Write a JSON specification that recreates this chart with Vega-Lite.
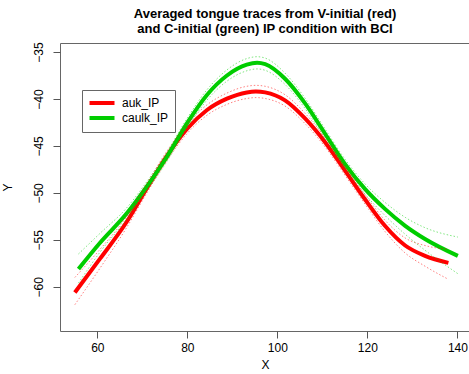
{
  "$schema": "https://vega.github.io/schema/vega-lite/v6.json",
  "width": 410,
  "height": 288,
  "autosize": {"type": "none"},
  "padding": {"left": 60, "top": 43, "right": 0, "bottom": 43},
  "title": {
    "text": ["Averaged tongue traces from V-initial (red)", "and C-initial (green) IP condition with BCI"],
    "font": "Liberation Sans",
    "fontSize": 13,
    "fontWeight": "bold",
    "anchor": "middle",
    "offset": 6,
    "lineHeight": 15,
    "color": "black"
  },
  "config": {
    "view": {"stroke": "#666", "strokeWidth": 1},
    "font": "Liberation Sans"
  },
  "data": {
    "values": [
      {"series": "auk_IP", "x": 55.0, "y": -60.6, "lo": -61.9, "hi": -59.0},
      {"series": "auk_IP", "x": 60.6, "y": -57.0, "lo": -58.0, "hi": -56.0},
      {"series": "auk_IP", "x": 66.5, "y": -53.1, "lo": -53.7, "hi": -52.5},
      {"series": "auk_IP", "x": 71.0, "y": -49.5, "lo": -50.0, "hi": -49.0},
      {"series": "auk_IP", "x": 75.4, "y": -46.1, "lo": -46.6, "hi": -45.6},
      {"series": "auk_IP", "x": 79.9, "y": -43.2, "lo": -43.7, "hi": -42.7},
      {"series": "auk_IP", "x": 84.3, "y": -41.2, "lo": -41.75, "hi": -40.65},
      {"series": "auk_IP", "x": 88.8, "y": -39.97, "lo": -40.57, "hi": -39.37},
      {"series": "auk_IP", "x": 93.2, "y": -39.3, "lo": -39.95, "hi": -38.65},
      {"series": "auk_IP", "x": 95.2, "y": -39.2, "lo": -39.85, "hi": -38.55},
      {"series": "auk_IP", "x": 97.3, "y": -39.3, "lo": -39.95, "hi": -38.65},
      {"series": "auk_IP", "x": 101.7, "y": -40.15, "lo": -40.75, "hi": -39.55},
      {"series": "auk_IP", "x": 106.2, "y": -42.1, "lo": -42.65, "hi": -41.55},
      {"series": "auk_IP", "x": 110.6, "y": -44.6, "lo": -45.1, "hi": -44.1},
      {"series": "auk_IP", "x": 115.0, "y": -47.6, "lo": -48.1, "hi": -47.1},
      {"series": "auk_IP", "x": 119.5, "y": -50.7, "lo": -51.2, "hi": -50.2},
      {"series": "auk_IP", "x": 123.9, "y": -53.5, "lo": -54.1, "hi": -52.9},
      {"series": "auk_IP", "x": 128.4, "y": -55.6, "lo": -56.4, "hi": -54.8},
      {"series": "auk_IP", "x": 132.8, "y": -56.7, "lo": -57.8, "hi": -55.6},
      {"series": "auk_IP", "x": 138.0, "y": -57.45, "lo": -59.2, "hi": -56.0},
      {"series": "caulk_IP", "x": 55.8, "y": -58.1, "lo": -59.6, "hi": -56.5},
      {"series": "caulk_IP", "x": 60.6, "y": -55.3, "lo": -56.3, "hi": -54.3},
      {"series": "caulk_IP", "x": 66.5, "y": -52.2, "lo": -52.8, "hi": -51.6},
      {"series": "caulk_IP", "x": 71.0, "y": -49.3, "lo": -49.8, "hi": -48.8},
      {"series": "caulk_IP", "x": 75.4, "y": -46.2, "lo": -46.7, "hi": -45.7},
      {"series": "caulk_IP", "x": 79.9, "y": -42.6, "lo": -43.1, "hi": -42.1},
      {"series": "caulk_IP", "x": 84.3, "y": -39.6, "lo": -40.15, "hi": -39.05},
      {"series": "caulk_IP", "x": 88.8, "y": -37.5, "lo": -38.1, "hi": -36.9},
      {"series": "caulk_IP", "x": 93.2, "y": -36.35, "lo": -37.0, "hi": -35.7},
      {"series": "caulk_IP", "x": 95.5, "y": -36.15, "lo": -36.8, "hi": -35.5},
      {"series": "caulk_IP", "x": 97.3, "y": -36.3, "lo": -36.95, "hi": -35.65},
      {"series": "caulk_IP", "x": 101.7, "y": -37.85, "lo": -38.45, "hi": -37.25},
      {"series": "caulk_IP", "x": 106.2, "y": -40.5, "lo": -41.05, "hi": -39.95},
      {"series": "caulk_IP", "x": 110.6, "y": -43.7, "lo": -44.2, "hi": -43.2},
      {"series": "caulk_IP", "x": 115.0, "y": -46.9, "lo": -47.4, "hi": -46.4},
      {"series": "caulk_IP", "x": 119.5, "y": -49.6, "lo": -50.15, "hi": -49.05},
      {"series": "caulk_IP", "x": 123.9, "y": -51.7, "lo": -52.4, "hi": -51.0},
      {"series": "caulk_IP", "x": 128.4, "y": -53.5, "lo": -54.4, "hi": -52.6},
      {"series": "caulk_IP", "x": 132.8, "y": -54.9, "lo": -56.1, "hi": -53.7},
      {"series": "caulk_IP", "x": 140.1, "y": -56.7, "lo": -58.6, "hi": -54.7}
    ]
  },
  "encoding": {
    "x": {
      "field": "x",
      "type": "quantitative",
      "scale": {"domain": [51.7, 142.8], "nice": false, "zero": false},
      "axis": {
        "values": [60, 80, 100, 120, 140],
        "title": "X",
        "grid": false,
        "domain": false,
        "tickSize": 7,
        "tickColor": "#555",
        "labelFontSize": 12,
        "labelColor": "black",
        "labelPadding": 4,
        "titleFontSize": 12,
        "titleFontWeight": "normal",
        "titleColor": "black",
        "titlePadding": 6
      }
    },
    "y": {
      "field": "y",
      "type": "quantitative",
      "scale": {"domain": [-64.7, -34.04], "nice": false, "zero": false},
      "axis": {
        "values": [-60, -55, -50, -45, -40, -35],
        "title": "Y",
        "grid": false,
        "domain": false,
        "tickSize": 7,
        "tickColor": "#555",
        "labelAngle": 270,
        "labelFontSize": 12,
        "labelColor": "black",
        "labelPadding": 8,
        "titleFontSize": 12,
        "titleFontWeight": "normal",
        "titleColor": "black",
        "titleAngle": 270,
        "titlePadding": 18
      }
    },
    "color": {
      "field": "series",
      "type": "nominal",
      "scale": {"domain": ["auk_IP", "caulk_IP"], "range": ["#FF0000", "#00CD00"]},
      "legend": {
        "orient": "none",
        "legendX": 22,
        "legendY": 47,
        "title": null,
        "strokeColor": "#666",
        "padding": 6,
        "symbolType": "M-2.5,0H2.5",
        "symbolSize": 100,
        "symbolStrokeWidth": 4,
        "symbolOffset": 7,
        "symbolDash": [],
        "symbolOpacity": 1,
        "labelOffset": 13,
        "labelFontSize": 12,
        "labelColor": "black",
        "rowPadding": -2
      }
    }
  },
  "layer": [
    {
      "mark": {"type": "line", "interpolate": "monotone", "strokeWidth": 4},
      "encoding": {"detail": {"field": "series"}}
    },
    {
      "transform": [{"fold": ["lo", "hi"], "as": ["kind", "y"]}],
      "mark": {"type": "line", "interpolate": "monotone", "strokeWidth": 1, "strokeDash": [1.5, 2], "opacity": 0.5},
      "encoding": {
        "detail": {"field": "kind"}
      }
    }
  ]
}
